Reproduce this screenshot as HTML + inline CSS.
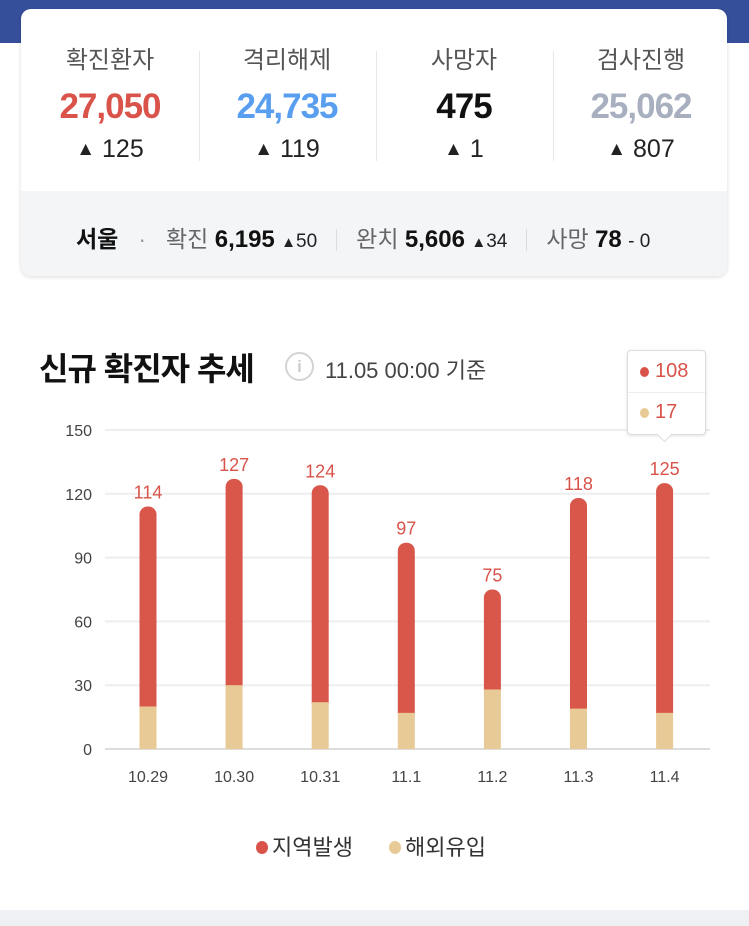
<!DOCTYPE html>
<html><head><meta charset="utf-8"><style>
body{margin:0;width:749px;height:926px;background:#fff;font-family:"Liberation Sans","Noto Sans CJK KR",sans-serif;position:relative;overflow:hidden}
.abs{position:absolute}
.c{text-align:center}
</style></head><body>
<div class="abs" style="left:0;top:0;width:749px;height:43px;background:#364f9b"></div>
<div class="abs" style="left:21px;top:9px;width:706px;height:267px;background:#fff;border-radius:10px;box-shadow:0 1px 4px rgba(0,0,0,0.15);overflow:hidden">
 <div class="abs" style="left:0;top:182px;width:706px;height:85px;background:#f4f5f7"></div>
</div>
<div id="stats"></div>
<div class="abs" style="left:0;top:910px;width:749px;height:16px;background:#eff0f4"></div>
<div class="abs" style="left:39px;top:344px;font-size:32px;font-weight:bold;color:#111;letter-spacing:-1px">신규 확진자 추세</div>
<div class="abs" style="left:285px;top:352px;width:29px;height:29px;border:2px solid #d4d4d4;border-radius:50%;box-sizing:border-box;color:#ccc;font-size:17px;text-align:center;line-height:25px;font-weight:bold">i</div>
<div class="abs" style="left:325px;top:353px;font-size:22px;color:#444">11.05 00:00 기준</div>
<svg class="abs" style="left:0;top:0" width="749" height="926" id="chart"></svg>
<div class="abs" style="left:627px;top:350px;width:77px;height:83px;background:#fff;border:1px solid #ddd;border-radius:4px;box-shadow:0 1px 3px rgba(0,0,0,0.12)">
 <div style="position:absolute;left:0;top:41px;width:77px;height:1px;background:#eee"></div>
 <div style="position:absolute;left:12px;top:9px;font-size:20px;color:#d9534a"><span style="display:inline-block;width:9px;height:10px;border-radius:50%;background:#d9534a;margin-right:6px;vertical-align:middle"></span>108</div>
 <div style="position:absolute;left:12px;top:50px;font-size:20px;color:#d9534a"><span style="display:inline-block;width:9px;height:10px;border-radius:50%;background:#e8ca96;margin-right:6px;vertical-align:middle"></span>17</div>
</div>
<div class="abs" style="left:659px;top:429px;width:10px;height:10px;background:#fff;border-right:1px solid #ddd;border-bottom:1px solid #ddd;transform:rotate(45deg)"></div>
<div class="abs" style="left:256px;top:830px;font-size:22px;color:#333"><span style="display:inline-block;width:12px;height:13px;border-radius:50%;background:#d9534a;margin-right:4px;vertical-align:1px"></span>지역발생</div>
<div class="abs" style="left:389px;top:830px;font-size:22px;color:#333"><span style="display:inline-block;width:12px;height:13px;border-radius:50%;background:#e8ca96;margin-right:4px;vertical-align:1px"></span>해외유입</div>
<script>
const statLabels=["확진환자","격리해제","사망자","검사진행"];
const statValues=["27,050","24,735","475","25,062"];
const statDeltas=["125","119","1","807"];
const statColors=["#d9534a","#5a9ef0","#111","#a8b0c0"];
const st=document.getElementById('stats');
let h='';
for(let i=0;i<4;i++){const cx=110+i*177;
h+=`<div class="abs c" style="left:${cx-80}px;top:40px;width:160px;font-size:24px;color:#555">${statLabels[i]}</div>`;
h+=`<div class="abs c" style="left:${cx-80}px;top:87px;width:160px;font-size:35px;font-weight:bold;color:${statColors[i]};letter-spacing:-1px">${statValues[i]}</div>`;
h+=`<div class="abs c" style="left:${cx-80}px;top:135px;width:160px;font-size:25px;color:#222"><span style="font-size:19px;vertical-align:2px">▲</span> ${statDeltas[i]}</div>`;
if(i>0)h+=`<div class="abs" style="left:${22+i*177}px;top:51px;width:1px;height:110px;background:#e8e8e8"></div>`;}
h+=`<div class="abs" style="left:76px;top:220px;font-size:23px;color:#666;white-space:nowrap"><b style="color:#111">서울</b><span style="margin:0 20px;color:#999">·</span>확진 <b style="color:#111;font-size:24px">6,195</b> <span style="font-size:15px;color:#222">▲</span><span style="color:#222;font-size:19px">50</span><span style="display:inline-block;width:1px;height:22px;background:#ddd;margin:0 19px;vertical-align:-4px"></span>완치 <b style="color:#111;font-size:24px">5,606</b> <span style="font-size:15px;color:#222">▲</span><span style="color:#222;font-size:19px">34</span><span style="display:inline-block;width:1px;height:22px;background:#ddd;margin:0 19px;vertical-align:-4px"></span>사망 <b style="color:#111;font-size:24px">78</b> <span style="color:#222;font-size:19px">- 0</span></div>`;
st.innerHTML=h;

const categories=["10.29","10.30","10.31","11.1","11.2","11.3","11.4"];
const totals=[114,127,124,97,75,118,125];
const overseas=[20,30,22,17,28,19,17];
const yTicks=[0,30,60,90,120,150];
const svg=document.getElementById('chart');
const NS='http://www.w3.org/2000/svg';
const y=v=>749-v*(319/150);
const x=i=>148+i*86.1;
function el(t,a){const e=document.createElementNS(NS,t);for(const k in a)e.setAttribute(k,a[k]);svg.appendChild(e);return e;}
yTicks.forEach(t=>{
 const l=el('line',{x1:105,x2:710,y1:y(t),y2:y(t),stroke:t===0?'#ddd':'#eee','stroke-width':2});
 
 
 const tx=el('text',{x:92,y:y(t)+6,'text-anchor':'end','font-size':16,fill:'#444'});tx.textContent=t;
 
 
});
categories.forEach((c,i)=>{
 const w=17,cx=x(i);
 const r=el('rect',{x:cx-w/2,y:y(totals[i]),width:w,height:y(overseas[i])-y(totals[i])+8,rx:8,fill:'#d9564a'});
 
 
 const o=el('rect',{x:cx-w/2,y:y(overseas[i]),width:w,height:y(0)-y(overseas[i]),fill:'#e8ca96'});
 
 
 const v=el('text',{x:cx,y:y(totals[i])-8,'text-anchor':'middle','font-size':18,fill:'#d9534a'});v.textContent=totals[i];
 
 
 const xl=el('text',{x:cx,y:782,'text-anchor':'middle','font-size':16,fill:'#444'});xl.textContent=c;
 
 
});
</script>
</body></html>
